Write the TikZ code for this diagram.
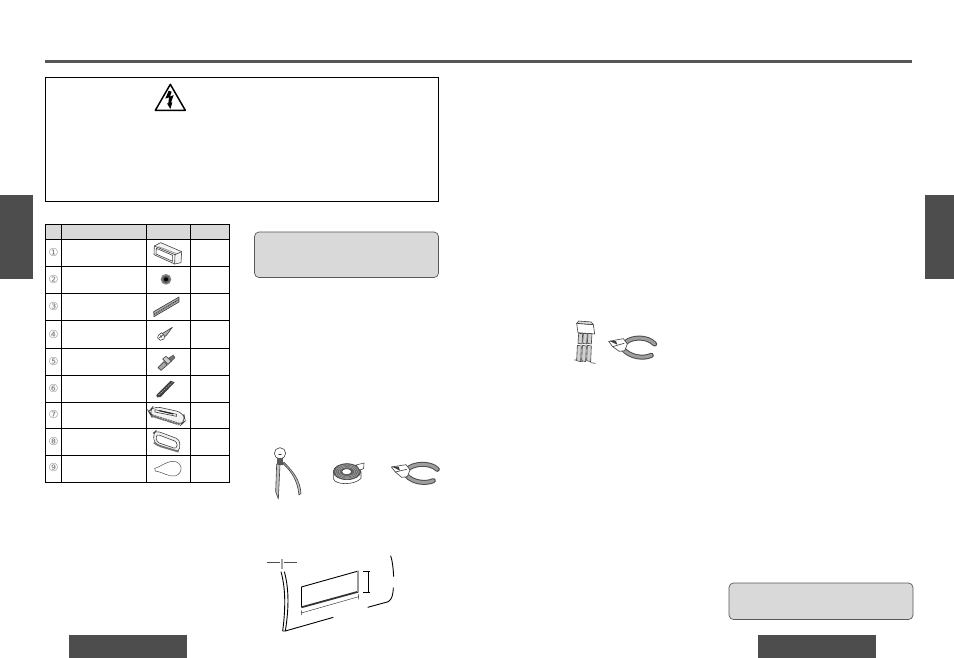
\documentclass[tikz,border=0pt]{standalone}
\usepackage{fontspec}
\setmainfont{DejaVu Sans}
\definecolor{dk}{HTML}{4D4D4D}
\definecolor{lg}{HTML}{D9D9D9}
\definecolor{mg}{HTML}{8C8C8C}
\tikzset{
  zm/.style 2 args={x=0.33333pt,y=-0.33333pt,shift={(#1pt,-#2pt)}},
  tl/.style={line width=0.8pt,black},
  ic/.style={line width=0.6pt,draw=black!75,line join=round,line cap=round},
  num/.style={font=\fontsize{11}{11}\selectfont,text=black!50,inner sep=0pt},
  fillbar/.style={fill=dk,draw=none},
  note/.style={fill=lg,draw=black!65,line width=0.7pt,rounded corners=4.5pt},
  handdark/.style={line width=5pt,draw=black!70,line cap=round},
  handlight/.style={line width=3pt,draw=black!38,line cap=round}
}
\begin{document}
\begin{tikzpicture}[x=1pt,y=-1pt]
\useasboundingbox (0,0) rectangle (954,658);
\fill[white] (0,0) rectangle (954,658);
% top rule
\fill[color=dk!95] (45,60) rectangle (912,63);
% tabs and bars
\fill[fillbar] (0,195) rectangle (33,279);
\fill[fillbar] (924.5,195) rectangle (954,279);
\fill[fillbar] (69,635) rectangle (187,658);
\fill[fillbar] (758,635) rectangle (876,658);
% warning box
\draw[line width=0.9pt] (45.5,77.5) rectangle (438.5,201.5);
\begin{scope}[zm={40}{50}]
  \draw[line width=1.5pt,line join=round] (391,103) -- (436,181) -- (346,181) -- cycle;
  \fill (386,122) -- (376,146) -- (387,142) -- (385,160) -- (381,160) -- (391,177) -- (397,157) -- (393,158) -- (401,135) -- (390,140) -- (395,125) -- cycle;
\end{scope}
% notes
\draw[note] (254.5,232) rectangle (438.5,277.5);
\draw[note] (729,583) rectangle (913,619.5);
% table
\fill[lg] (45.5,224.7) rectangle (229.5,239.3);
\draw[tl] (45.5,224.7) rectangle (229.5,482.3);
\foreach \xx in {61.5,146.5,190.5} \draw[tl] (\xx,224.7) -- (\xx,482.3);
\foreach \yy in {239.3,266.3,293.3,320.7,348.3,375.7,402.3,428.5,455.3} \draw[tl] (45.5,\yy) -- (229.5,\yy);
\foreach \n/\c/\yy in {1/①/252,2/②/279,3/③/306,4/④/334,5/⑤/361,6/⑥/388,7/⑦/414.5,8/⑧/441.5,9/⑨/467.5}
  \node[num] (n\n) at (53.5,\yy) {\c};
\begin{scope}[zm={40}{220}]
  % icon 1 box
  \draw[ic,fill=black!4] (343,78) -- (362,68) -- (425,95) -- (423,128) -- (404,132) -- (342,104) -- cycle;
  \draw[ic] (343,78) -- (405,104) -- (425,95);
  \draw[ic] (405,104) -- (404,132);
  \draw[ic,fill=white] (349,85) -- (398,106) -- (398,124) -- (348,102) -- cycle;
  \draw[ic,black!45] (356,80) -- (410,101);
  % icon 2 grommet
  \fill[black!50] (378,178) circle (16);
  \fill[black!65] (378,178) circle (11);
  \fill[black] (378,178) circle (6);
  % icon 3 strap
  \draw[ic,fill=black!35] (341,275) -- (417,231) -- (417,246) -- (342,290) -- cycle;
  \draw[black!80,line width=1pt,dash pattern=on 1pt off 1pt] (343,283) -- (416,239);
  % icon 4 screw
  \draw[ic,fill=black!30] (368,340) -- (397,322) -- (380,345) -- (372,352) -- cycle;
  \draw[ic,fill=white] (355,346) -- (365,338) -- (373,348) -- (372,357) -- (361,361) -- (353,354) -- cycle;
  \draw[ic] (358,354) -- (368,345) (361,347) -- (366,352);
\end{scope}
\begin{scope}[zm={40}{345}]
  % icon 5 bolt
  \draw[ic,fill=black!55,line width=0.3pt] (384,40) -- (400,30) -- (405,38) -- (392,51) -- cycle;
  \draw[ic,fill=black!20] (368,42) -- (378,34) -- (394,48) -- (384,58) -- cycle;
  \draw[ic,fill=black!35] (354,68) -- (372,50) -- (382,60) -- (363,76) -- cycle;
  % icon 6 dark bundle
  \fill[black!75] (349,150) -- (392,107) -- (404,112) -- (362,156) -- (351,157) -- cycle;
  \draw[black!35,line width=0.7pt,dash pattern=on 1.5pt off 1pt] (356,150) -- (397,112);
  % icon 7 faceplate
  \draw[ic,fill=black!5,rounded corners=7pt] (326,200) -- (340,183) -- (431,203) -- (436,228) -- (422,241) -- (333,212) -- cycle;
  \draw[ic,fill=white] (345,194) -- (410,208) -- (410,214) -- (345,201) -- cycle;
  \draw[black!85,line width=1.2pt] (358,197) -- (400,207);
  \draw[black!55,line width=2.6pt,dash pattern=on 2pt off 0.7pt] (336,212) -- (420,238);
  % icon 8 frame
  \draw[ic,fill=black!5,rounded corners=4pt] (340,264) -- (348,257) -- (420,284) -- (418,321) -- (343,296) -- cycle;
  \draw[ic,fill=white,rounded corners=3pt] (349,267) -- (412,291) -- (410,312) -- (349,291) -- cycle;
  \draw[black!55,line width=1.8pt,rounded corners=4pt] (342,293) -- (352,301) -- (416,320);
  % icon 9 loop
  \draw[ic,line width=0.45pt] (344,370) .. controls (358,368) and (375,350) .. (400,349) .. controls (428,350) and (432,385) .. (405,393) .. controls (385,396) and (365,380) .. (346,378) -- cycle;
\end{scope}
% bulb, tape, pliers
\begin{scope}[zm={250}{430}]
  \draw[ic] (90,70) circle (17);
  \draw[ic] (86,73) -- (94,73);
  \fill[black!65] (80,85) rectangle (100,104);
  \draw[ic,fill=black!25] (80,102) -- (77,185) -- (85,207) -- (90,104) -- cycle;
  \draw[ic,fill=black!25] (98,100) .. controls (125,125) and (142,150) .. (147,195) -- (153,190) .. controls (150,150) and (130,125) .. (102,97) -- cycle;
  % tape
  \draw[ic,fill=white] (250,128) -- (250,146) .. controls (255,166) and (315,166) .. (333,145) -- (333,125) -- cycle;
  \draw[ic,fill=black!60] (291,125) ellipse (41 and 24);
  \foreach \r in {36,30,24} \draw[black!30,line width=0.4pt] (291,125) ellipse (\r*0.95 and \r*0.58);
  \draw[ic,fill=white] (290,125) ellipse (15 and 9);
  \draw[ic,fill=white] (318,105) -- (342,99) -- (341,116) -- (329,120) -- cycle;
  % pliers
  \draw[handdark] (472,118) .. controls (490,100) and (540,96) .. (562,118);
  \draw[handlight] (472,118) .. controls (490,100) and (540,96) .. (562,118);
  \draw[handdark] (468,135) .. controls (490,160) and (530,161) .. (550,152);
  \draw[handlight] (468,135) .. controls (490,160) and (530,161) .. (550,152);
  \draw[ic,fill=white] (424,111) -- (468,104) -- (480,120) -- (472,140) -- (455,142) -- (436,126) -- cycle;
  \fill[black!75] (426,110) -- (446,110) -- (450,122) -- cycle;
  \draw[ic] (436,126) -- (470,118);
\end{scope}
% cutout figure
\begin{scope}[zm={255}{545}]
  \draw[line width=0.5pt,black!70] (36,51) -- (76,51) (86,51) -- (126,51);
  \fill[black!35] (77,42) rectangle (85,73);
  \draw[line width=0.9pt] (78,80) .. controls (92,130) and (92,190) .. (83,258);
  \draw[line width=0.9pt] (88,80) .. controls (102,130) and (102,190) .. (91,258);
  \draw[line width=0.9pt] (83,258) -- (91,258) -- (235,217);
  \draw[line width=0.9pt] (407,32) .. controls (413,50) and (415,75) .. (416,95);
  \draw[line width=0.9pt] (415,128) .. controls (414,150) and (411,162) .. (400,170) -- (338,187);
  % opening
  \draw[line width=0.9pt] (139,126) -- (310,78);
  \draw[line width=0.9pt] (139,126) -- (139,186);
  \draw[line width=1.8pt,black!80] (139,187) -- (310,140);
  \draw[line width=2pt,black!40] (310,78) -- (310,140);
  % dims
  \draw[line width=0.9pt] (324,80) -- (346,80) (324,141) -- (346,141);
  \draw[line width=0.6pt] (340,80) -- (340,141);
  \draw[line width=0.45pt,black!80] (139,196) -- (139,210) (311,147) -- (311,163) (139,204) -- (311,155);
\end{scope}
% harness and pliers
\begin{scope}[zm={560}{310}]
  \draw[ic,fill=white] (50,40) -- (100,44) -- (104,72) -- (54,68) -- cycle;
  \draw[ic,fill=black!15] (50,40) -- (56,33) -- (94,36) -- (100,44) -- cycle;
  \foreach \i in {0,1,2} {
    \draw[ic,fill=black!18] ({56+\i*14},70) -- ({68+\i*14},71) -- ({66+\i*14},102) -- ({54+\i*14},100) -- cycle;
    \draw[ic,fill=black!18] ({52+\i*15},106) -- ({64+\i*15},108) -- ({62+\i*15},155) -- ({50+\i*15},152) -- cycle;
  }
  \draw[ic] (44,150) -- (50,150) (62,155) -- (68,155) (92,158) -- (106,160);
  \draw[handdark] (196,98) .. controls (215,80) and (262,78) .. (284,102);
  \draw[handlight] (196,98) .. controls (215,80) and (262,78) .. (284,102);
  \draw[handdark] (188,116) .. controls (210,142) and (250,147) .. (274,136);
  \draw[handlight] (188,116) .. controls (210,142) and (250,147) .. (274,136);
  \draw[ic,fill=white] (146,94) -- (190,86) -- (202,102) -- (194,122) -- (178,124) -- (158,110) -- cycle;
  \fill[black!75] (148,93) -- (168,93) -- (172,104) -- cycle;
  \draw[ic] (158,110) -- (192,100);
\end{scope}
\end{tikzpicture}
\end{document}
